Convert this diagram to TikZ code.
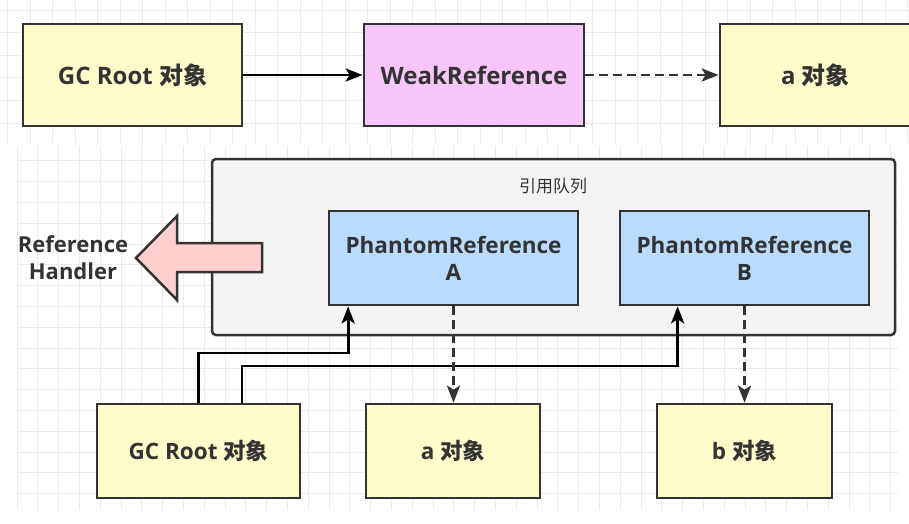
\documentclass[tikz,border=0pt]{standalone}
\usepackage{fontspec}
\setmainfont{Open Sans}
\newfontfamily\cjk{Noto Sans CJK SC}
\usetikzlibrary{arrows.meta}
\definecolor{ink}{HTML}{333333}
\definecolor{yel}{HTML}{FFFBCB}
\definecolor{pinkf}{HTML}{F9C6FC}
\definecolor{bluef}{HTML}{BADCFC}
\definecolor{queuef}{HTML}{F4F4F4}
\definecolor{redf}{HTML}{FFCFD0}
\definecolor{gridc}{HTML}{EBEBEB}
\tikzset{
  box/.style={draw=ink, line width=2.7pt, text=ink, font=\fontsize{22.5}{27}\selectfont\bfseries, align=center, inner sep=0pt},
  topbox/.style={box, font=\fontsize{24}{29}\selectfont\bfseries},
  yelbox/.style={box, fill=yel},
  conn/.style={draw=black, line width=2.8pt, -{Stealth[length=17pt,width=13pt,inset=4pt]}},
  dconn/.style={conn, draw=ink, dash pattern=on 9pt off 5pt},
}
\begin{document}
\begin{tikzpicture}[x=1pt,y=-1pt]
\useasboundingbox (0,0) rectangle (909,524);
\fill[white] (0,0) rectangle (909,524);
% grids
\begin{scope}
\clip (0,0) rectangle (909,143);
\foreach \i in {0,...,40} \draw[gridc, line width=1pt] (7.5+22.5*\i,0) -- (7.5+22.5*\i,143);
\foreach \j in {0,...,6} \draw[gridc, line width=1pt] (0,10.5+22.5*\j) -- (909,10.5+22.5*\j);
\end{scope}
\begin{scope}
\clip (17,146) rectangle (898,510);
\foreach \i in {0,...,43} \draw[gridc, line width=1pt] (17+20.8*\i,146) -- (17+20.8*\i,510);
\foreach \j in {-1,...,17} \draw[gridc, line width=1pt] (17,160.8+20.8*\j) -- (898,160.8+20.8*\j);
\end{scope}

% top row
\node[yelbox, topbox, minimum width=219pt, minimum height=102pt] (gc1) at (132.5,75) {GC Root {\cjk\bfseries 对象}};
\node[topbox, fill=pinkf, minimum width=220pt, minimum height=102pt] (weak) at (474,75) {WeakReference};
\node[yelbox, topbox, minimum width=191pt, minimum height=102pt] (a1) at (815.5,75) {a {\cjk\bfseries 对象}};
\draw[conn] (gc1) -- (weak);
\draw[dconn] (weak) -- (a1);

% queue
\node[draw=ink, line width=2.5pt, fill=queuef, rounded corners=4pt, minimum width=683pt, minimum height=176pt, inner sep=0pt] (queue) at (553.5,247) {};
\node[text=ink, font=\cjk\fontsize{17}{20}\selectfont] (qlabel) at (553,186) {引用队列};
\node[box, fill=bluef, minimum width=249pt, minimum height=94pt] (pa) at (453.5,258) {PhantomReference\\A};
\node[box, fill=bluef, minimum width=249pt, minimum height=94pt] (pb) at (744.5,258) {PhantomReference\\B};

% reference handler arrow
\draw[draw=ink, line width=2.5pt, fill=redf, line join=miter]
  (262,243) -- (177,243) -- (177,216) -- (136,258) -- (177,300) -- (177,272) -- (262,272) -- cycle;
\node[text=ink, font=\fontsize{22}{27}\selectfont\bfseries, align=center] (rh) at (73,258) {Reference\\Handler};

% bottom row
\node[yelbox, minimum width=203pt, minimum height=94pt] (gc2) at (198.5,451) {GC Root {\cjk\bfseries 对象}};
\node[yelbox, minimum width=174pt, minimum height=94pt] (a2) at (453,451) {a {\cjk\bfseries 对象}};
\node[yelbox, minimum width=175pt, minimum height=94pt] (b2) at (744.5,451) {b {\cjk\bfseries 对象}};

\coordinate (j1) at (350,353);
\coordinate (j2) at (679,366);
\draw[conn] (gc2.north) |- (j1) -| ([xshift=20.5pt]pa.south west);
\draw[conn] ([xshift=43.5pt]gc2.north) |- (j2) -| ([xshift=59pt]pb.south west);
\draw[dconn] (pa.south) -- (pa.south |- a2.north);
\draw[dconn] (pb.south) -- (b2.north);
\end{tikzpicture}
\end{document}
